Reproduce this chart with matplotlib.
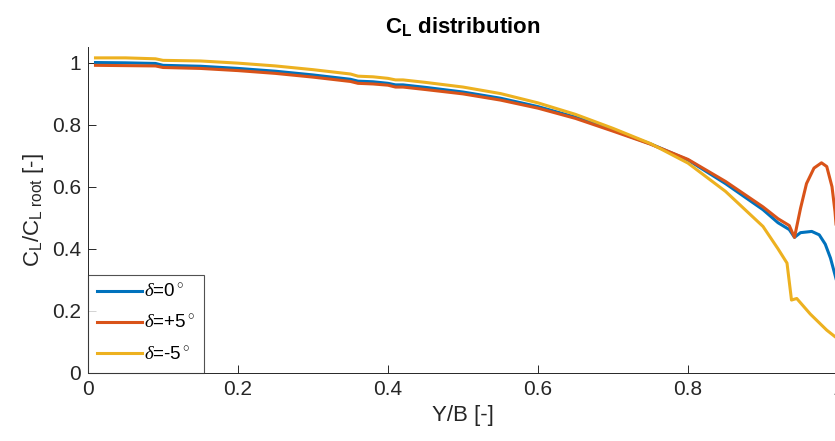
import matplotlib
matplotlib.use("Agg")
import matplotlib.pyplot as plt

# IMPORTS / SETTINGS----------------------------------------------------------------------------------------------------
plt.rcParams['font.family'] = ['Liberation Sans', 'DejaVu Sans']
plt.rcParams['mathtext.fontset'] = 'custom'
plt.rcParams['mathtext.rm'] = 'Liberation Sans'
plt.rcParams['mathtext.it'] = 'Liberation Serif:italic'
plt.rcParams['mathtext.bf'] = 'Liberation Sans:bold'

# DATA------------------------------------------------------------------------------------------------------------------
y_b0 = [0.01, 0.05, 0.09, 0.10, 0.15, 0.20, 0.25, 0.30, 0.35, 0.36, 0.38, 0.40, 0.41, 0.42, 0.45, 0.50,
        0.55, 0.60, 0.65, 0.70, 0.75, 0.80, 0.85, 0.90, 0.92, 0.935, 0.942, 0.95, 0.965, 0.975, 0.983,
        0.99, 1.0]
cl_0 = [1.000, 0.999, 0.997, 0.991, 0.988, 0.981, 0.972, 0.960, 0.946, 0.940, 0.938, 0.933, 0.928, 0.928,
        0.920, 0.905, 0.885, 0.858, 0.824, 0.782, 0.738, 0.686, 0.610, 0.526, 0.484, 0.462, 0.437, 0.452,
        0.456, 0.445, 0.415, 0.370, 0.280]

y_bp5 = [0.01, 0.05, 0.09, 0.10, 0.15, 0.20, 0.25, 0.30, 0.35, 0.36, 0.38, 0.40, 0.41, 0.42, 0.45, 0.50,
         0.55, 0.60, 0.65, 0.70, 0.75, 0.80, 0.85, 0.90, 0.92, 0.935, 0.942, 0.95, 0.958, 0.968, 0.978,
         0.985, 0.992, 0.996, 1.0]
cl_p5 = [0.991, 0.990, 0.989, 0.984, 0.981, 0.974, 0.965, 0.953, 0.939, 0.933, 0.931, 0.927, 0.921, 0.921,
         0.913, 0.899, 0.879, 0.853, 0.820, 0.779, 0.737, 0.688, 0.617, 0.535, 0.497, 0.475, 0.437, 0.530,
         0.610, 0.660, 0.677, 0.665, 0.600, 0.520, 0.400]

y_bm5 = [0.01, 0.05, 0.09, 0.10, 0.15, 0.20, 0.25, 0.30, 0.35, 0.36, 0.38, 0.40, 0.41, 0.42, 0.45, 0.50,
         0.55, 0.60, 0.65, 0.70, 0.75, 0.80, 0.85, 0.90, 0.92, 0.932, 0.938, 0.945, 0.963, 0.985, 0.996,
         1.0]
cl_m5 = [1.015, 1.015, 1.012, 1.007, 1.005, 0.998, 0.989, 0.977, 0.963, 0.956, 0.954, 0.949, 0.944, 0.944,
         0.936, 0.921, 0.900, 0.870, 0.833, 0.788, 0.739, 0.676, 0.585, 0.472, 0.400, 0.354, 0.235, 0.240,
         0.190, 0.138, 0.117, 0.110]

labels = [r'$\delta$=0$^\circ$', r'$\delta$=+5$^\circ$', r'$\delta$=-5$^\circ$']
colors = ['#0072BD', '#D95319', '#EDB120']
x_ticks = [0, 0.2, 0.4, 0.6, 0.8, 1]
y_ticks = [0, 0.2, 0.4, 0.6, 0.8, 1]

# PLOT------------------------------------------------------------------------------------------------------------------
fig = plt.figure(figsize=(8.35, 4.41), dpi=100)
ax = fig.add_axes([88 / 835, 68 / 441, 750 / 835, 326 / 441])

for xs, ys, lab, c in zip([y_b0, y_bp5, y_bm5], [cl_0, cl_p5, cl_m5], labels, colors):
    ax.plot(xs, ys, color=c, lw=2.2, label=lab)

ax.set_xlim(0, 1)
ax.set_ylim(0, 1.05)
ax.set_xticks(x_ticks)
ax.set_xticklabels(['0', '0.2', '0.4', '0.6', '0.8', '1'])
ax.set_yticks(y_ticks)
ax.set_yticklabels(['0', '0.2', '0.4', '0.6', '0.8', '1'])

dark = '#262626'
for s in ['top', 'right']:
    ax.spines[s].set_visible(False)
for s in ['left', 'bottom']:
    ax.spines[s].set_color(dark)
    ax.spines[s].set_linewidth(0.7)
ax.tick_params(direction='in', length=5.5, width=0.7, colors=dark, labelsize=15, pad=5)

ax.set_title(r'C$_\mathbf{L}$ distribution', fontsize=16, fontweight='bold', color='black', pad=10)
ax.set_xlabel('Y/B [-]', fontsize=16, color=dark, labelpad=4)
ax.set_ylabel(r'C$_\mathrm{L}$/C$_\mathrm{L\ root}$ [-]', fontsize=16, color=dark, labelpad=4)

leg = ax.legend(loc='lower left', fontsize=13.5, frameon=True, fancybox=False, borderaxespad=0,
                handlelength=2.4, handletextpad=0.1, labelspacing=0.75, borderpad=0.5)
leg.get_frame().set_edgecolor(dark)
leg.get_frame().set_linewidth(0.8)

fig.savefig('out.png', dpi=100)
